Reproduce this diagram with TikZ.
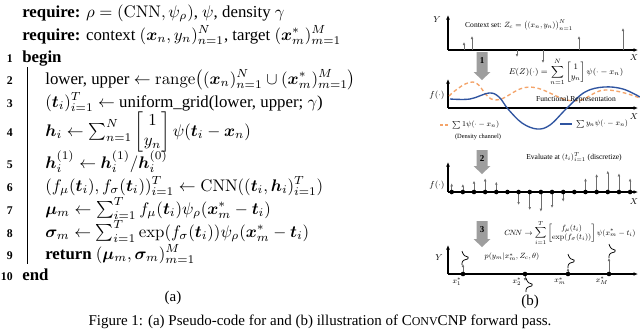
\documentclass[tikz,border=0pt]{standalone}
\usepackage{amsmath,amssymb}
\usepackage{bm}
\usepackage[no-math]{fontspec}
\setmainfont{Liberation Serif}
\usetikzlibrary{arrows.meta,positioning}

\definecolor{curveblue}{RGB}{47,84,160}
\definecolor{curveorange}{RGB}{244,164,106}
\definecolor{stemgray}{RGB}{110,110,110}
\definecolor{blockgray}{RGB}{158,158,158}

\newcommand{\bmx}{\bm{x}}
\newcommand{\bmt}{\bm{t}}
\newcommand{\bmh}{\bm{h}}

\begin{document}
\begin{tikzpicture}[x=0.6667pt, y=-0.6667pt,
  code/.style   = {anchor=base west, inner sep=0pt, font=\normalsize, scale=1.12},
  lno/.style    = {anchor=base east, inner sep=0pt, font=\scriptsize\bfseries, scale=1.12},
  tiny/.style   = {inner sep=0pt, font=\footnotesize, scale=0.63},
  axlbl/.style  = {inner sep=0pt, font=\footnotesize, scale=0.72},
  axis/.style   = {-{Latex[length=3pt,width=2.6pt]}, line width=0.8pt},
  stem/.style   = {-{Latex[length=2pt,width=1.8pt]}, stemgray, line width=0.4pt},
  dens/.style   = {line width=0.5pt, rounded corners=0.6pt},
  blocklbl/.style = {inner sep=0pt, font=\fontsize{6}{7}\selectfont\bfseries}
]
\useasboundingbox[fill=white] (0,0) rectangle (640,334);

% --- (a) pseudo-code ---
\node[code] (req1) at (22,17) {\textbf{require:} $\rho = (\mathrm{CNN}, \psi_\rho)$, $\psi$, density $\gamma$};
\node[code] (req2) at (22,40) {\textbf{require:} context $(\bmx_n, y_n)_{n=1}^N$, target $(\bmx^*_m)_{m=1}^M$};
\node[code] (l1) at (22,62) {\textbf{begin}};
\node[code] (l2) at (45,84) {lower, upper $\leftarrow \mathrm{range}\big((\bmx_n)_{n=1}^N \cup (\bmx^*_m)_{m=1}^M\big)$};
\node[code] (l3) at (45,107) {$(\bmt_i)_{i=1}^T \leftarrow$ uniform\_grid(lower, upper; $\gamma$)};
\node[code] (l4) at (45,136) {$\bmh_i \leftarrow \sum_{n=1}^N \begin{bmatrix}1\\ y_n\end{bmatrix} \psi(\bmt_i - \bmx_n)$};
\node[code] (l5) at (45,168) {$\bmh_i^{(1)} \leftarrow \bmh_i^{(1)}/\bmh_i^{(0)}$};
\node[code] (l6) at (45,191) {$(f_\mu(\bmt_i), f_\sigma(\bmt_i))_{i=1}^T \leftarrow \mathrm{CNN}((\bmt_i, \bmh_i)_{i=1}^T)$};
\node[code] (l7) at (45,214) {$\bm{\mu}_m \leftarrow \sum_{i=1}^T f_\mu(\bmt_i)\psi_\rho(\bmx^*_m - \bmt_i)$};
\node[code] (l8) at (45,237) {$\bm{\sigma}_m \leftarrow \sum_{i=1}^T \exp(f_\sigma(\bmt_i))\psi_\rho(\bmx^*_m - \bmt_i)$};
\node[code] (l9) at (45,259) {\textbf{return} $(\bm{\mu}_m, \bm{\sigma}_m)_{m=1}^M$};
\node[code] (l10) at (22,280) {\textbf{end}};
% line numbers
\foreach \n/\yy in {1/62, 2/84, 3/107, 4/136, 5/168, 6/191, 7/214, 8/237, 9/259, 10/280}
  \node[lno] (no\n) at (13,\yy) {\n};
% block rule
\draw[line width=0.5pt] (27,67) -- (27,264);
\node (capa) at (173,298) {(a)};

% --- (b) illustration ---
% panel 1: context set
\draw[axis] (448,50) -- (448,15);
\draw[axis] (448,50) -- (638,50);
\node[axlbl] (y1) at (437,20) {$Y$};
\node[axlbl] (x1) at (634,58) {$X$};
\foreach \xx/\tip in {464/42, 472/36, 579/36, 623/28}
  \draw[stem] (\xx,50) -- (\xx,\tip);
\foreach \xx/\tip in {517/57, 543/63}
  \draw[stem] (\xx,50) -- (\xx,\tip);
\node[tiny] (ctx) at (519,25) {Context set: $Z_c = \big((x_n, y_n)\big)_{n=1}^{N}$};
\node[tiny, scale=1.1] (enc) at (566,72) {$E(Z)(\cdot) = \displaystyle\sum_{n=1}^{N} \begin{bmatrix}1\\ y_n\end{bmatrix} \psi(\cdot - x_n)$};

% panel 2: functional representation
\draw[axis] (448,108) -- (448,79);
\draw[axis] (448,108) -- (638,108);
\node[axlbl] (f2) at (437,95) {$f(\cdot)$};
\node[axlbl] (x2) at (634,117) {$X$};
\draw[curveorange, dashed, dash pattern=on 2.5pt off 1.8pt, line width=0.9pt]
  plot[smooth, tension=0.7] coordinates {(449,96) (473,82) (495,100) (530,87) (573,101) (605,90) (640,98)};
\draw[curveblue, line width=0.9pt]
  plot[smooth, tension=0.6] coordinates {(450,99) (470,99) (489,93) (499,97) (508,109) (522,123) (537,129) (550,125) (567,108) (585,92) (604,87) (623,89) (640,97)};
\node[tiny] (func) at (576,100) {Functional Representation};
\draw[curveorange, dashed, dash pattern=on 2pt off 1.5pt, line width=0.9pt] (440,125) -- (448,125);
\node[tiny, anchor=west] (dens) at (452,125) {$\sum 1\psi(\cdot - x_n)$};
\node[tiny, scale=0.85] (denslbl) at (478,137) {(Density channel)};
\draw[curveblue, line width=0.9pt] (560,124) -- (572,124);
\node[tiny, anchor=west] (sig) at (576,124) {$\sum y_n\psi(\cdot - x_n)$};

% panel 3: discretised grid
\draw[axis] (448,192) -- (448,162);
\draw[axis] (448,192) -- (638,192);
\node[axlbl] (f3) at (437,185) {$f(\cdot)$};
\node[axlbl] (x3) at (634,202) {$X$};
\node[tiny] (eval) at (574,157) {Evaluate at $(t_i)_{i=1}^{T}$ (discretize)};
\foreach \k/\tip in {0/183.3, 1/184, 2/180.7, 3/178.3, 4/181.7, 6/205, 7/210, 8/211.7, 9/208, 10/201.7, 12/178.3, 13/174, 14/170.7, 15/173.3, 16/178.3}
  \draw[stem] (451.7+\k*11.15,192) -- (451.7+\k*11.15,\tip);
\foreach \k in {0,...,16}
  \fill (451.7+\k*11.15,192) circle (2.3);
\node[tiny] (cnn) at (570,233) {$C\!N\!N \to \displaystyle\sum_{i=1}^{T} \begin{bmatrix} f_\mu(t_i)\\ \exp(f_\sigma(t_i))\end{bmatrix} \psi(x^*_m - t_i)$};

% panel 4: predictions at targets
\draw[axis] (448,274) -- (448,245);
\draw[axis] (448,274) -- (638,274);
\node[axlbl] (y4) at (439,258) {$Y$};
\node[tiny] (pred) at (512,257) {$p(y_m | x^*_m, Z_c, \theta)$};
\foreach \xx/\tip in {463/264, 525/281, 568/268, 609/258}
  \draw[stem] (\xx,274) -- (\xx,\tip);
\foreach \xx in {463, 525, 568, 609}
  \fill (\xx,274) circle (2.3);
\foreach \cx/\cy in {463/258, 527/285, 569/261, 610/251}
  \draw[dens] plot[smooth, tension=0.8] coordinates {(\cx-1,\cy-7) (\cx+1,\cy-3) (\cx+5,\cy) (\cx,\cy+3) (\cx-1,\cy+7)};
\node[tiny] (t1) at (457,282) {$x^*_1$};
\node[tiny] (t2) at (517,282) {$x^*_2$};
\node[tiny] (tm) at (560,281) {$x^*_m$};
\node[tiny] (tM) at (602,281) {$x^*_M$};

% block arrows 1, 2, 3
\foreach \t/\b/\n in {52/80/1, 150/174/2, 221/247/3} {
  \fill[blockgray] (476.5,\t) -- (487.5,\t) -- (487.5,\b-8) -- (490.5,\b-8)
    -- (482,\b) -- (473.5,\b-8) -- (476.5,\b-8) -- cycle;
  \node[blocklbl] (blk\n) at (482,\t+9) {\n};
}
\node (capb) at (530,302) {(b)};

% caption
\node (cap) at (320,322) {Figure 1: (a) Pseudo-code for and (b) illustration of C{\footnotesize ONV}CNP forward pass.};
\end{tikzpicture}
\end{document}
